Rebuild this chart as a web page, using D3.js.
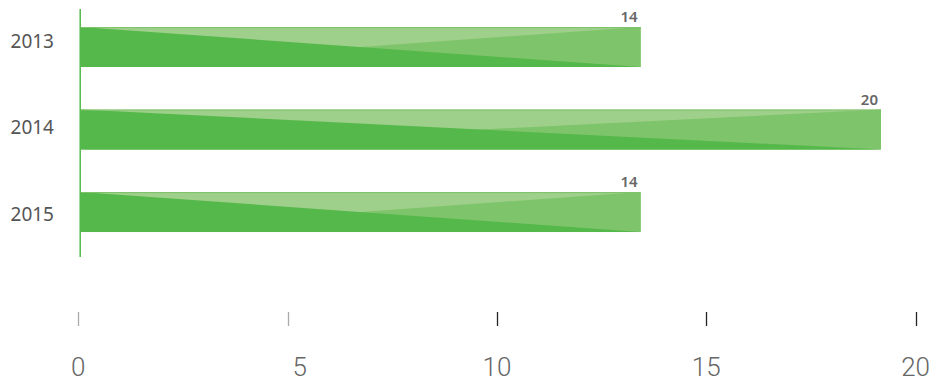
<!DOCTYPE html>
<html><head><meta charset="utf-8">
<script src="https://cdn.jsdelivr.net/npm/d3@7"></script>
<style>body{margin:0;background:#fff}svg{display:block}</style>
</head><body>
<svg id="c" width="931" height="383"></svg>
<script>
const categories = ["2013", "2014", "2015"];
const values = [14, 20, 14];
const tickValues = [0, 5, 10, 15, 20];

const svg = d3.select("#c");

// bar scale and axis scale
const xBar = d3.scaleLinear().domain([0, 20]).range([80, 881]);
const xAxis = d3.scaleLinear().domain([0, 20]).range([78.3, 915.6]);
const y = d3.scaleBand().domain(categories).range([5.8, 253.3]).paddingInner(0.515).paddingOuter(0.2575);
const yLab = d3.scalePoint().domain(categories).range([41, 214]);

const cLight = "#9ecf8b", cMed = "#7ec46a", cDark = "#55b84a";

const g = svg.append("g");
categories.forEach((c, i) => {
  const v = values[i];
  const x0 = xBar(0), x1 = xBar(v), y0 = y(c), y1 = y(c) + y.bandwidth();
  g.append("rect").attr("x", x0).attr("y", y0).attr("width", x1 - x0).attr("height", y1 - y0).attr("fill", cLight);
  g.append("path").attr("d", `M${x0},${y1}L${x1},${y0}L${x1},${y1}Z`).attr("fill", cMed);
  g.append("path").attr("d", `M${x0},${y0}L${x1},${y1}L${x0},${y1}Z`).attr("fill", cDark);
  g.append("line").attr("x1", x0).attr("x2", x1).attr("y1", y0 + 0.5).attr("y2", y0 + 0.5).attr("stroke", cMed).attr("stroke-width", 1);
  g.append("text").attr("x", x1 - 3).attr("y", y0 - 5).attr("text-anchor", "end")
    .attr("font-family", "Noto Sans").attr("font-size", 15).attr("font-weight", 600).attr("fill", "#666").text(v);
  g.append("text").attr("x", 54).attr("y", yLab(c)).attr("dy", "0.36em").attr("text-anchor", "end")
    .attr("font-family", "Noto Sans").attr("font-size", 19).attr("fill", "#555").text(c);
});

// y axis line
svg.append("line").attr("x1", 80.2).attr("x2", 80.2).attr("y1", 9).attr("y2", 257)
  .attr("stroke", cDark).attr("stroke-width", 1.5);

// x axis
const ax = svg.append("g");
tickValues.forEach((t, i) => {
  const x = Math.round(xAxis(t)) + 0.5;
  ax.append("line").attr("x1", x).attr("x2", x).attr("y1", 312).attr("y2", 326)
    .attr("stroke", i < 2 ? "#aaa" : "#222").attr("stroke-width", 1.3);
  ax.append("text").attr("x", xAxis(t) + (t === 5 ? 12 : 0)).attr("y", 376).attr("text-anchor", "middle")
    .attr("font-family", "Roboto").attr("font-weight", 300).attr("font-size", 26).attr("fill", "#666").text(t);
});
</script>
</body></html>
